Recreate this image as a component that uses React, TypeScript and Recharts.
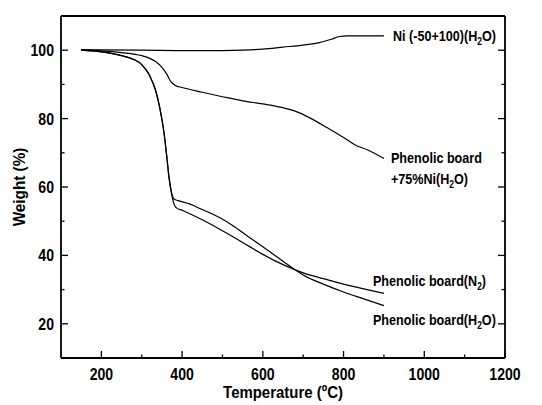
import React from 'react';
import { LineChart, Line, XAxis, YAxis, ReferenceDot } from 'recharts';

// ---------- data ----------
const xTicks = [200, 300, 400, 500, 600, 700, 800, 900, 1000, 1100, 1200];
const yTicks = [20, 30, 40, 50, 60, 70, 80, 90, 100];

const niTemp = [150, 200, 300, 400, 500, 550, 600, 650, 700, 740, 770, 790, 810, 900];
const niWeight = [100.2, 100.1, 100.0, 99.9, 99.9, 100.0, 100.3, 100.9, 101.5, 102.2, 103.2, 104.0, 104.2, 104.2];

const pbNiTemp = [150, 200, 250, 300, 320, 335, 350, 362, 372, 383, 400, 450, 500, 550, 600, 650, 680, 720, 760, 800, 830, 860, 900];
const pbNiWeight = [100.0, 99.8, 99.3, 98.4, 97.6, 96.6, 95.0, 93.0, 90.8, 89.7, 89.1, 87.7, 86.4, 85.2, 84.3, 83.2, 82.2, 80.0, 77.3, 74.5, 72.2, 70.8, 68.3];

const pbN2Temp = [150, 200, 250, 280, 300, 320, 335, 345, 355, 362, 368, 374, 380, 386, 400, 450, 500, 550, 600, 650, 700, 750, 800, 850, 900];
const pbN2Weight = [100.0, 99.5, 98.4, 97.3, 95.8, 92.5, 88.0, 83.0, 76.0, 69.0, 62.5, 58.0, 55.0, 53.9, 53.2, 50.4, 47.2, 43.8, 40.3, 37.3, 34.9, 33.2, 31.6, 30.2, 28.9];

const pbH2OTemp = [150, 200, 250, 280, 300, 320, 335, 345, 355, 362, 368, 374, 380, 390, 420, 444, 494, 527, 560, 600, 650, 680, 700, 750, 800, 850, 900];
const pbH2OWeight = [100.0, 99.5, 98.4, 97.3, 95.8, 92.5, 88.0, 83.0, 76.0, 69.0, 62.3, 58.3, 56.5, 56.0, 55.0, 53.7, 51.0, 48.6, 45.8, 42.5, 38.3, 35.8, 34.3, 31.6, 29.3, 27.3, 25.3];

const toRows = (t: number[], w: number[]) => t.map((v, i) => ({ t: v, w: w[i] }));
const niData = toRows(niTemp, niWeight);
const pbNiData = toRows(pbNiTemp, pbNiWeight);
const pbN2Data = toRows(pbN2Temp, pbN2Weight);
const pbH2OData = toRows(pbH2OTemp, pbH2OWeight);

// ---------- style ----------
const FONT = "'Liberation Sans', Arial, sans-serif";
const INK = '#000';
const MAJ = 7;
const MIN = 3.5;
const TICK_FS = 16;
const TICK_SX = 0.88;
const ANN_FS = 15;
const ANN_SX = 0.84;

const Condensed = ({ x, y, sx, anchor = 'start', size, rotate = 0, children }: any) => (
  <text
    x={0}
    y={0}
    transform={`translate(${x} ${y}) rotate(${rotate}) scale(${sx} 1)`}
    textAnchor={anchor}
    fontFamily={FONT}
    fontWeight="bold"
    fontSize={size}
    fill={INK}
  >
    {children}
  </text>
);

const BottomTick = (p: any) => {
  const { x, y, payload } = p;
  const major = payload.value % 200 === 0;
  return (
    <g>
      <line x1={x} x2={x} y1={y} y2={y - (major ? MAJ : MIN)} stroke={INK} strokeWidth={1.3} />
      {major && (
        <Condensed x={x} y={y + 22} sx={TICK_SX} anchor="middle" size={TICK_FS}>
          {payload.value}
        </Condensed>
      )}
    </g>
  );
};

const TopTick = (p: any) => {
  const { x, y, payload } = p;
  const major = payload.value % 200 === 0;
  return <line x1={x} x2={x} y1={y} y2={y + (major ? MAJ : MIN)} stroke={INK} strokeWidth={1.3} />;
};

const LeftTick = (p: any) => {
  const { x, y, payload } = p;
  const major = payload.value % 20 === 0;
  return (
    <g>
      <line x1={x} x2={x + (major ? MAJ : MIN)} y1={y} y2={y} stroke={INK} strokeWidth={1.3} />
      {major && (
        <Condensed x={x - 7} y={y + 6} sx={TICK_SX} anchor="end" size={TICK_FS}>
          {payload.value}
        </Condensed>
      )}
    </g>
  );
};

const RightTick = (p: any) => {
  const { x, y, payload } = p;
  const major = payload.value % 20 === 0;
  return <line x1={x} x2={x - (major ? MAJ : MIN)} y1={y} y2={y} stroke={INK} strokeWidth={1.3} />;
};

const Sub = ({ children }: any) => (
  <tspan fontSize={10} dy={4}>{children}</tspan>
);

const NiLabel = (p: any) => {
  const { x, y } = p.viewBox;
  return (
    <Condensed x={x + 9} y={y + 5} sx={ANN_SX} size={ANN_FS}>
      Ni (-50+100)(H<Sub>2</Sub><tspan dy={-4}>O)</tspan>
    </Condensed>
  );
};

const PbNiLabel = (p: any) => {
  const { x, y } = p.viewBox;
  return (
    <g>
      <Condensed x={x + 7} y={y + 4} sx={ANN_SX} size={ANN_FS}>
        Phenolic board
      </Condensed>
      <Condensed x={x + 7} y={y + 25} sx={ANN_SX} size={ANN_FS}>
        +75%Ni(H<Sub>2</Sub><tspan dy={-4}>O)</tspan>
      </Condensed>
    </g>
  );
};

const N2Label = (p: any) => {
  const { x, y } = p.viewBox;
  return (
    <Condensed x={x - 11} y={y - 7} sx={ANN_SX} size={ANN_FS}>
      Phenolic board(N<Sub>2</Sub><tspan dy={-4}>)</tspan>
    </Condensed>
  );
};

const H2OLabel = (p: any) => {
  const { x, y } = p.viewBox;
  return (
    <Condensed x={x - 11} y={y + 19} sx={ANN_SX} size={ANN_FS}>
      Phenolic board(H<Sub>2</Sub><tspan dy={-4}>O)</tspan>
    </Condensed>
  );
};

const YTitle = (p: any) => {
  const { x, y, height } = p.viewBox;
  return (
    <Condensed x={x + 25} y={y + height / 2} sx={0.9} anchor="middle" size={17} rotate={-90}>
      Weight (%)
    </Condensed>
  );
};

const XTitle = (p: any) => {
  const { x, y, width } = p.viewBox;
  return (
    <Condensed x={x + width / 2} y={y + 40} sx={0.88} anchor="middle" size={17}>
      Temperature (ºC)
    </Condensed>
  );
};

export default function App() {
  const lineProps = {
    type: 'monotone' as const,
    dataKey: 'w',
    stroke: INK,
    strokeWidth: 1.2,
    dot: false,
    isAnimationActive: false,
  };
  return (
    <div style={{ position: 'absolute', left: 0, top: 0, background: '#fff' }}>
      <LineChart width={542} height={405} margin={{ top: 0, right: 0, bottom: 0, left: 0 }}>
        <XAxis
          type="number"
          dataKey="t"
          domain={[100, 1200]}
          ticks={xTicks}
          interval={0}
          allowDataOverflow
          height={47}
          tickSize={0}
          tickMargin={0}
          tickLine={false}
          axisLine={{ stroke: INK, strokeWidth: 1.8 }}
          tick={<BottomTick />}
          label={<XTitle />}
        />
        <XAxis
          xAxisId="top"
          orientation="top"
          type="number"
          domain={[100, 1200]}
          ticks={xTicks}
          interval={0}
          allowDataOverflow
          height={16}
          tickSize={0}
          tickMargin={0}
          tickLine={false}
          axisLine={{ stroke: INK, strokeWidth: 1.8 }}
          tick={<TopTick />}
        />
        <YAxis
          type="number"
          domain={[10, 110]}
          ticks={yTicks}
          interval={0}
          allowDataOverflow
          width={61}
          tickSize={0}
          tickMargin={0}
          tickLine={false}
          axisLine={{ stroke: INK, strokeWidth: 1.8 }}
          tick={<LeftTick />}
          label={<YTitle />}
        />
        <YAxis
          yAxisId="right"
          orientation="right"
          type="number"
          domain={[10, 110]}
          ticks={yTicks}
          interval={0}
          allowDataOverflow
          width={37}
          tickSize={0}
          tickMargin={0}
          tickLine={false}
          axisLine={{ stroke: INK, strokeWidth: 1.8 }}
          tick={<RightTick />}
        />
        <Line {...lineProps} data={niData} name="Ni (-50+100)(H2O)" />
        <Line {...lineProps} data={pbNiData} name="Phenolic board +75%Ni(H2O)" />
        <Line {...lineProps} data={pbN2Data} name="Phenolic board(N2)" />
        <Line {...lineProps} data={pbH2OData} name="Phenolic board(H2O)" />
        <ReferenceDot x={900} y={104.2} r={0} stroke="none" fill="none" label={<NiLabel />} />
        <ReferenceDot x={900} y={68.3} r={0} stroke="none" fill="none" label={<PbNiLabel />} />
        <ReferenceDot x={900} y={28.9} r={0} stroke="none" fill="none" label={<N2Label />} />
        <ReferenceDot x={900} y={25.3} r={0} stroke="none" fill="none" label={<H2OLabel />} />
      </LineChart>
    </div>
  );
}
